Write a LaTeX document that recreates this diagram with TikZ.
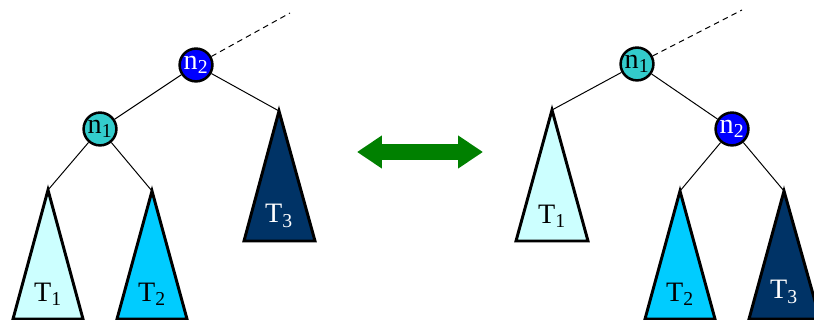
\documentclass[tikz,border=0pt]{standalone}
\usepackage{fontspec}
\setmainfont{Liberation Serif}
\usetikzlibrary{arrows.meta}
\definecolor{keyblue}{RGB}{0,0,255}
\definecolor{keyteal}{RGB}{51,204,204}
\definecolor{treeone}{RGB}{204,255,255}
\definecolor{treetwo}{RGB}{0,204,255}
\definecolor{treethree}{RGB}{0,51,102}
\definecolor{swapgreen}{RGB}{0,128,0}
\tikzset{
    keynode/.style={
        circle,
        draw,
        line width=1.8pt,
        minimum size=0.82cm,
        inner sep=0pt,
        font=\fontsize{20}{22}\selectfont
    },
    bluekey/.style={keynode, fill=keyblue, text=white},
    tealkey/.style={keynode, fill=keyteal, text=black},
    subtree/.style={draw, line width=2.1pt, line join=miter},
    treelabel/.style={font=\fontsize{20}{22}\selectfont},
    edge/.style={line width=0.7pt},
    parent/.style={line width=0.7pt, dashed, dash pattern=on 4pt off 3pt},
    swap/.style={swapgreen, line width=0.375cm,
        {Triangle[length=0.62cm,width=0.78cm]}-{Triangle[length=0.62cm,width=0.78cm]}}
}

\begin{document}
\begin{tikzpicture}[x=0.025cm,y=-0.025cm]

\clip (0,0) rectangle (814,320);

% Left tree: n2 above n1
\coordinate (lt1) at (48,190);
\coordinate (lt2) at (152,191);
\coordinate (lt3) at (279,111);
\coordinate (lup) at (290,13);

\filldraw[subtree, fill=treeone]   (lt1) -- (13,319) -- (83,319) -- cycle;
\filldraw[subtree, fill=treetwo]   (lt2) -- (117,319) -- (187,319) -- cycle;
\filldraw[subtree, fill=treethree] (lt3) -- (244,241) -- (315,241) -- cycle;

\node[treelabel]             (lT1) at (48,294)  {T\textsubscript{1}};
\node[treelabel]             (lT2) at (152,294) {T\textsubscript{2}};
\node[treelabel, text=white] (lT3) at (279,216) {T\textsubscript{3}};

\node[bluekey] (ln2) at (196,65)  {n\textsubscript{2}};
\node[tealkey] (ln1) at (100,129) {n\textsubscript{1}};

\draw[edge] (ln2) -- (ln1);
\draw[edge] (ln2) -- (lt3);
\draw[edge] (ln1) -- (lt1);
\draw[edge] (ln1) -- (lt2);
\draw[parent] (ln2) -- (lup);

% Rotation arrow
\coordinate (swapL) at (357,152);
\coordinate (swapR) at (483,152);
\draw[swap] (swapL) -- (swapR);

% Right tree: n1 above n2
\coordinate (rt1) at (552,110);
\coordinate (rt2) at (680,191);
\coordinate (rt3) at (784,191);
\coordinate (rup) at (742,10);

\filldraw[subtree, fill=treeone]   (rt1) -- (516,241) -- (588,241) -- cycle;
\filldraw[subtree, fill=treetwo]   (rt2) -- (645,319) -- (715,319) -- cycle;
\filldraw[subtree, fill=treethree] (rt3) -- (749,319) -- (820,319) -- cycle;

\node[treelabel]             (rT1) at (552,216) {T\textsubscript{1}};
\node[treelabel]             (rT2) at (680,294) {T\textsubscript{2}};
\node[treelabel, text=white] (rT3) at (784,292) {T\textsubscript{3}};

\node[tealkey] (rn1) at (637,64)  {n\textsubscript{1}};
\node[bluekey] (rn2) at (732,129) {n\textsubscript{2}};

\draw[edge] (rn1) -- (rt1);
\draw[edge] (rn1) -- (rn2);
\draw[edge] (rn2) -- (rt2);
\draw[edge] (rn2) -- (rt3);
\draw[parent] (rn1) -- (rup);

\end{tikzpicture}
\end{document}
